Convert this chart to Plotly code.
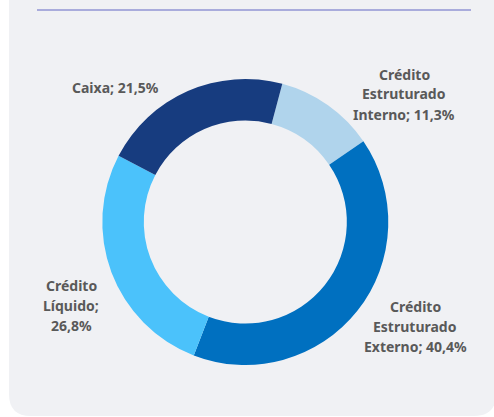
import plotly.graph_objects as go

# dados do gráfico (ordem horária a partir do topo)
labels = ["Crédito Estruturado Interno", "Crédito Estruturado Externo", "Crédito Líquido", "Caixa"]
values = [11.3, 40.4, 26.8, 21.5]
colors = ["#b0d4ec", "#0070c0", "#4bc2fb", "#173c7f"]

# quebra de linha dos rótulos, como na figura
label_lines = [
    ["Crédito", "Estruturado", "Interno; {v}"],
    ["Crédito", "Estruturado", "Externo; {v}"],
    ["Crédito", "Líquido;", "{v}"],
    ["Caixa; {v}"],
]
# centro do primeiro texto de cada rótulo (px)
label_pos = [(404, 74), (415, 306), (71, 285), (115, 87)]
line_step = 20

W, H = 494, 417


def px_x(x):
    return x / W


def px_y(y):
    return 1 - y / H


fig = go.Figure()

cx, cy, r = 245.3, 222, 143
fig.add_trace(go.Pie(
    labels=labels,
    values=values,
    marker=dict(colors=colors, line=dict(width=0)),
    hole=0.71,
    sort=False,
    direction="clockwise",
    rotation=15,
    textinfo="none",
    hoverinfo="label+percent",
    showlegend=False,
    domain=dict(x=[px_x(cx - r), px_x(cx + r)], y=[px_y(cy + r), px_y(cy - r)]),
))

# rótulos
for lines, val, (x0, y0) in zip(label_lines, values, label_pos):
    txt_val = f"{val:.1f}%".replace(".", ",")
    for i, ln in enumerate(lines):
        fig.add_annotation(
            x=px_x(x0), y=px_y(y0 + i * line_step), xref="paper", yref="paper",
            text=ln.format(v=txt_val), showarrow=False,
            xanchor="center", yanchor="middle",
            font=dict(family="Noto Sans", size=14, color="#595959", weight="bold"),
        )

# painel cinza com cantos arredondados + linha superior
x0, x1, y0, y1, rad = 9, 496, -30, 416, 22
path = (
    f"M {px_x(x0)},{px_y(y0)} L {px_x(x1)},{px_y(y0)} "
    f"L {px_x(x1)},{px_y(y1 - rad)} Q {px_x(x1)},{px_y(y1)} {px_x(x1 - rad)},{px_y(y1)} "
    f"L {px_x(x0 + rad)},{px_y(y1)} Q {px_x(x0)},{px_y(y1)} {px_x(x0)},{px_y(y1 - rad)} Z"
)
fig.add_shape(type="path", path=path, xref="paper", yref="paper",
              fillcolor="#f0f1f4", line=dict(width=0), layer="below")
fig.add_shape(type="line", x0=px_x(37), x1=px_x(471), y0=px_y(10), y1=px_y(10),
              xref="paper", yref="paper", line=dict(color="#a9acdc", width=2), layer="below")

fig.update_layout(
    width=W, height=H,
    margin=dict(l=0, r=0, t=0, b=0),
    paper_bgcolor="white",
    plot_bgcolor="rgba(0,0,0,0)",
)

# sem margem do body, para a figura ocupar a janela toda
fig.write_html("out.html", config={"displayModeBar": False},
               post_script="document.body.style.margin='0';")
